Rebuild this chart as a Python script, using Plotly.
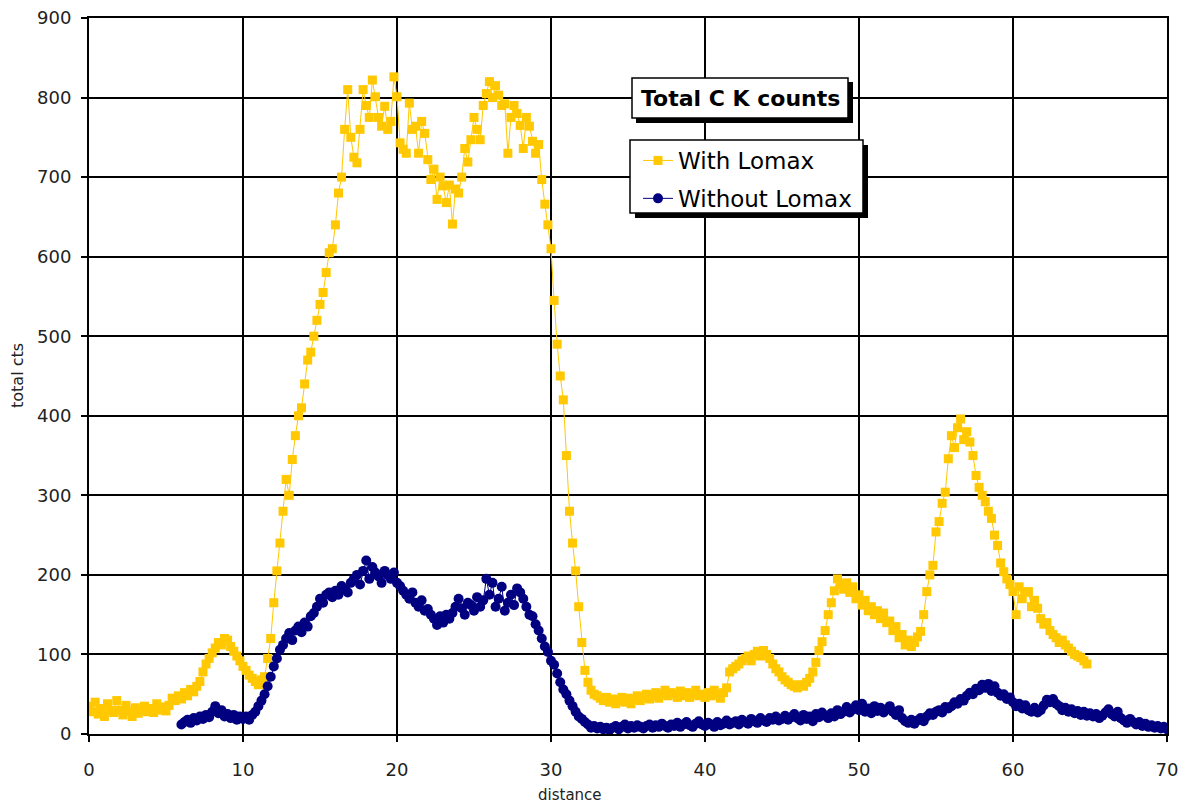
import plotly.graph_objects as go

# ---- data ----
with_lomax_start = 0.0
with_lomax_step = 0.2
with_lomax = [
    35, 28, 40, 25, 32, 22, 38, 30, 27, 42,
    30, 24, 36, 28, 22, 33, 26, 30, 35, 28,
    32, 27, 38, 30, 34, 29, 36, 45, 42, 48,
    44, 52, 48, 56, 53, 60, 66, 78, 88, 95,
    102, 108, 115, 112, 120, 118, 110, 104, 98, 92,
    85, 80, 74, 70, 66, 62, 68, 72, 95, 120,
    165, 205, 240, 280, 320, 300, 345, 375, 400, 410,
    440, 470, 480, 500, 520, 540, 555, 580, 605, 610,
    640, 680, 700, 760, 810, 750, 725, 718, 760, 810,
    790, 775, 822, 801, 775, 764, 789, 760, 770, 826,
    801, 743, 735, 730, 793, 760, 764, 730, 770, 755,
    722, 697, 710, 672, 700, 689, 668, 690, 641, 685,
    680, 700, 736, 719, 747, 775, 760, 747, 790, 805,
    820, 800, 815, 803, 790, 792, 730, 775, 790, 780,
    765, 736, 775, 764, 745, 730, 741, 697, 666, 640,
    610, 545, 490, 450, 420, 350, 280, 240, 205, 160,
    115, 80, 65, 55, 50, 48, 45, 42, 46, 40,
    44, 38, 42, 46, 40, 45, 38, 44, 48, 42,
    46, 50, 44, 48, 52, 45, 50, 55, 48, 52,
    50, 46, 54, 48, 52, 46, 50, 55, 48, 50,
    46, 52, 48, 55, 50, 45, 52, 58, 78, 82,
    85, 88, 92, 95, 98, 92, 100, 104, 98, 105,
    100, 95, 88, 82, 78, 72, 68, 65, 62, 60,
    58, 62, 60, 65, 70, 78, 90, 105, 116, 130,
    150, 165, 180, 195, 188, 182, 190, 178, 185, 170,
    175, 162, 168, 155, 160, 150, 155, 145, 152, 140,
    142, 130, 135, 121, 125, 112, 118, 110, 115, 122,
    129, 150, 179, 200, 212, 254, 267, 290, 304, 346,
    375, 360, 385, 396, 370, 380, 367, 350, 325, 310,
    300, 292, 280, 271, 250, 237, 215, 204, 195, 188,
    179, 150, 185, 170, 178, 179, 160, 168, 158, 145,
    138, 140, 130, 125, 121, 115, 118, 112, 108, 104,
    100, 98, 96, 92, 88,
]

without_lomax_start = 6.0
without_lomax_step = 0.2
without_lomax = [
    12, 15, 18, 14, 20, 17, 22, 19, 24, 21,
    28, 35, 26, 30, 22, 25, 20, 24, 18, 22,
    19, 22, 18, 24, 28, 35, 42, 50, 60, 72,
    85, 95, 106, 112, 120, 127, 118, 130, 135, 128,
    140, 135, 148, 152, 160, 170, 165, 175, 178, 172,
    180, 175, 186, 182, 178, 190, 195, 200, 188, 205,
    218, 195, 210, 203, 198, 190, 205, 200, 195, 203,
    190, 186, 180, 175, 170, 178, 165, 160, 168, 155,
    157, 150, 145, 137, 148, 140, 150, 145, 152, 160,
    170, 158, 150, 165, 162, 155, 172, 160, 168, 195,
    175, 190, 160, 170, 185, 155, 165, 175, 162, 183,
    178, 170, 160, 150, 148, 138, 130, 120, 110, 103,
    92, 87, 76, 65, 56, 50, 42, 35, 28, 22,
    19, 15, 12, 8, 10, 7, 9, 6, 8, 5,
    8, 10, 6, 9, 12, 7, 10, 8, 11, 9,
    7, 10, 12, 8, 11, 9, 13, 10, 8, 12,
    10, 14, 9, 12, 15, 11, 9, 13, 16, 12,
    10, 14, 12, 9, 15, 11, 13, 17, 12, 14,
    16, 12, 18, 15, 13, 19, 16, 14, 20, 17,
    15, 20, 18, 22, 17, 19, 23, 18, 21, 25,
    20, 17, 24, 19, 22, 16, 25, 21, 27, 23,
    20, 26, 22, 30, 25, 28, 34, 27, 31, 36,
    30, 38, 28, 32, 26, 35, 29, 33, 27, 31,
    35, 28, 24, 30, 20, 16, 14, 18, 13, 17,
    20, 16, 22, 26, 24, 28, 30, 27, 34, 32,
    35, 40, 38, 44, 42, 48, 52, 50, 57, 55,
    62, 58, 63, 54, 60, 52, 48, 50, 44, 46,
    40, 35, 38, 32, 36, 30, 28, 33, 27, 30,
    36, 43, 40, 44, 38, 35, 30, 33, 28, 31,
    26, 29, 24, 28, 23, 26, 22, 25, 20, 23,
    27, 31, 25, 22, 28, 20, 17, 14, 19, 15,
    12, 15, 10, 13, 9, 11, 8, 10, 7, 9,
    6,
]

x_ticks = [0, 10, 20, 30, 40, 50, 60, 70]
y_ticks = [0, 100, 200, 300, 400, 500, 600, 700, 800, 900]
series_names = ["With Lomax", "Without Lomax"]
legend_title = "Total C K counts"
x_title = "distance"
y_title = "total cts"

x_with = [round(with_lomax_start + i * with_lomax_step, 2) for i in range(len(with_lomax))]
x_without = [round(without_lomax_start + i * without_lomax_step, 2) for i in range(len(without_lomax))]

# ---- layout geometry (screen pixels; the page body has an 8px margin) ----
OFF = 8
W, H = 1187 - 2 * OFF, 812 - 2 * OFF
L, R, T, B = 89 - OFF, 1167 - OFF, 18 - OFF, 734 - OFF
pw, ph = R - L, B - T


def px(xs):
    return (xs - OFF - L) / pw


def py(ys):
    return (B - (ys - OFF)) / ph


FONT = "DejaVu Sans"
YELLOW = "#FFC800"
NAVY = "#000080"

fig = go.Figure()
fig.add_trace(go.Scatter(
    x=x_with, y=with_lomax, mode="lines+markers", name=series_names[0],
    line=dict(color=YELLOW, width=1),
    marker=dict(symbol="square", size=9, color=YELLOW, line=dict(width=0)),
    legendgroup="a",
))
fig.add_trace(go.Scatter(
    x=x_without, y=without_lomax, mode="lines+markers", name=series_names[1],
    line=dict(color=NAVY, width=1),
    marker=dict(symbol="circle", size=10, color=NAVY, line=dict(width=0)),
    legendgroup="b",
))

axis_common = dict(
    showgrid=True, gridcolor="black", gridwidth=1.6,
    showline=True, linecolor="black", linewidth=2, mirror=True,
    ticks="outside", ticklen=6, tickwidth=1.6, tickcolor="black",
    tickfont=dict(family=FONT, size=18, color="#222"),
    zeroline=False, automargin=False, ticklabeloverflow="allow",
)

fig.update_layout(
    width=W, height=H,
    margin=dict(l=L, r=W - R, t=T, b=H - B, autoexpand=False),
    paper_bgcolor="white", plot_bgcolor="white",
    xaxis=dict(range=[0, 70], tickvals=x_ticks, ticklabelstandoff=12, **axis_common),
    yaxis=dict(range=[0, 900], tickvals=y_ticks, ticklabelstandoff=6, **axis_common),
    showlegend=True,
    legend=dict(
        x=px(638), y=py(139), xanchor="left", yanchor="top",
        bgcolor="rgba(0,0,0,0)", borderwidth=0,
        font=dict(family=FONT, size=23, color="black"),
        tracegroupgap=5, itemwidth=30,
    ),
)

shapes = []
# title box shadow + box
shapes.append(dict(type="rect", xref="paper", yref="paper", layer="above",
                   x0=px(636), x1=px(853), y0=py(123), y1=py(82),
                   fillcolor="black", line=dict(width=0)))
shapes.append(dict(type="rect", xref="paper", yref="paper", layer="above",
                   x0=px(632), x1=px(848), y0=py(118), y1=py(78),
                   fillcolor="white", line=dict(color="black", width=1.5)))
# legend box shadow + box
shapes.append(dict(type="rect", xref="paper", yref="paper", layer="above",
                   x0=px(635), x1=px(868), y0=py(218), y1=py(145),
                   fillcolor="black", line=dict(width=0)))
shapes.append(dict(type="rect", xref="paper", yref="paper", layer="above",
                   x0=px(630), x1=px(863), y0=py(213), y1=py(140),
                   fillcolor="white", line=dict(color="black", width=1.5)))
fig.update_layout(shapes=shapes)

fig.add_annotation(
    xref="paper", yref="paper", x=px(740), y=py(98), xanchor="center", yanchor="middle",
    text="<b>" + legend_title + "</b>", showarrow=False,
    font=dict(family=FONT, size=22, color="black"),
)
fig.add_annotation(
    xref="paper", yref="paper", x=px(570), y=py(795), xanchor="center", yanchor="middle",
    text=x_title, showarrow=False,
    font=dict(family=FONT, size=15, color="#222"),
)
fig.add_annotation(
    xref="paper", yref="paper", x=px(17), y=py(376), xanchor="center", yanchor="middle",
    text=y_title, showarrow=False, textangle=-90,
    font=dict(family=FONT, size=16, color="#222"),
)

fig.write_html("out.html")
